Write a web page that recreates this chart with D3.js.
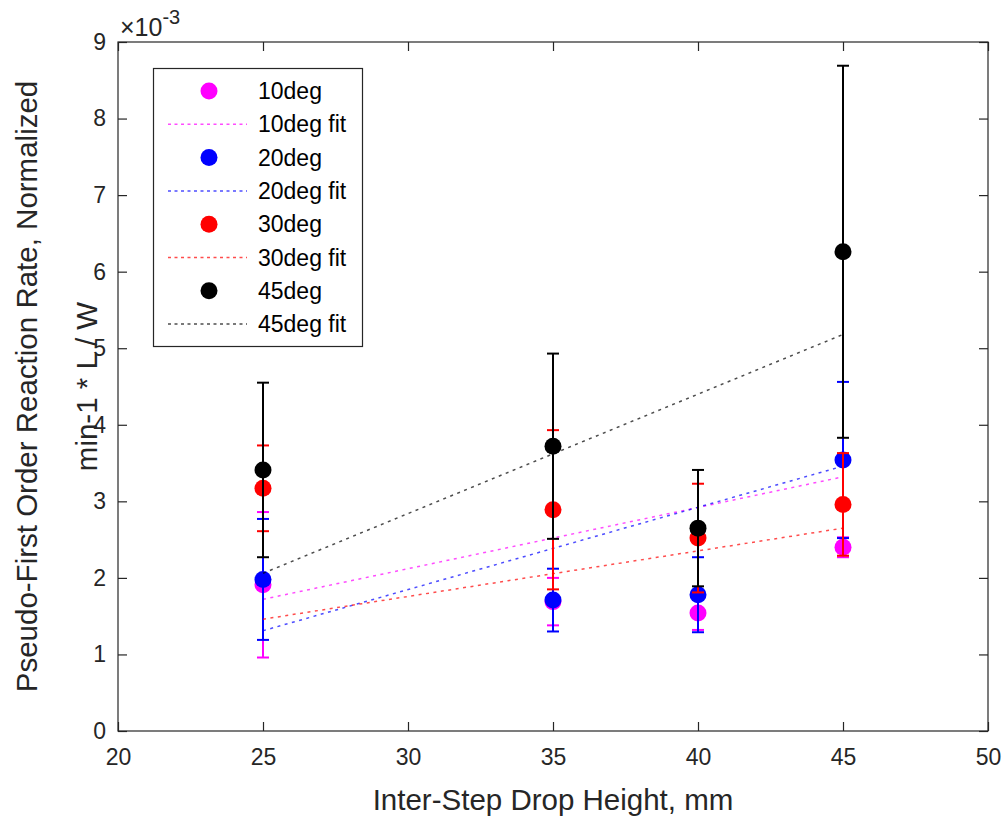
<!DOCTYPE html>
<html>
<head>
<meta charset="utf-8">
<script src="https://cdn.jsdelivr.net/npm/d3@7"></script>
<style>
  html, body { margin: 0; padding: 0; background: #fff; }
  svg { display: block; font-family: "Liberation Sans", Arial, Helvetica, sans-serif; }
</style>
</head>
<body>
<svg id="chart"></svg>
<script>
// drop heights (mm)
const heights = [25, 35, 40, 45];

// series names and colours
const seriesNames = ["10deg", "20deg", "30deg", "45deg"];
const seriesColors = ["#ff00ff", "#0000ff", "#ff0000", "#000000"];

// measured rates (min-1 * L / W) and error half-widths
const rate10 = [1.91e-3, 1.69e-3, 1.54e-3, 2.40e-3];
const err10  = [0.95e-3, 0.31e-3, 0.22e-3, 0.13e-3];
const rate20 = [1.98e-3, 1.71e-3, 1.78e-3, 3.54e-3];
const err20  = [0.79e-3, 0.41e-3, 0.49e-3, 1.02e-3];
const rate30 = [3.17e-3, 2.89e-3, 2.52e-3, 2.96e-3];
const err30  = [0.56e-3, 1.04e-3, 0.71e-3, 0.67e-3];
const rate45 = [3.41e-3, 3.72e-3, 2.65e-3, 6.26e-3];
const err45  = [1.14e-3, 1.21e-3, 0.76e-3, 2.43e-3];

// linear fits, evaluated at the ends of the height range
const fitX  = [25, 45];
const fit10 = [1.72e-3, 3.32e-3];
const fit20 = [1.31e-3, 3.46e-3];
const fit30 = [1.46e-3, 2.65e-3];
const fit45 = [2.06e-3, 5.18e-3];

// axis ticks
const xTicks = [20, 25, 30, 35, 40, 45, 50];
const yTicks = [0, 1e-3, 2e-3, 3e-3, 4e-3, 5e-3, 6e-3, 7e-3, 8e-3, 9e-3];

const W = 1004, H = 816;
const plot = { left: 118, right: 988, top: 42, bottom: 731 };
const axisColor = "#262626";
const tickLen = 9;

const series = [
    { rates: rate10, errs: err10, fit: fit10 },
    { rates: rate20, errs: err20, fit: fit20 },
    { rates: rate30, errs: err30, fit: fit30 },
    { rates: rate45, errs: err45, fit: fit45 }
].map((s, i) => ({ ...s, name: seriesNames[i], color: seriesColors[i] }));

const svg = d3.select("#chart").attr("width", W).attr("height", H);

const x = d3.scaleLinear().domain([20, 50]).range([plot.left, plot.right]);
const y = d3.scaleLinear().domain([0, 9e-3]).range([plot.bottom, plot.top]);

// --- axes (box with inward ticks on every side) ---
const axes = svg.append("g").attr("class", "axes");

axes.append("g")
    .attr("transform", `translate(0,${plot.bottom})`)
    .call(d3.axisBottom(x).tickValues(xTicks).tickSize(-tickLen).tickPadding(18).tickFormat(d3.format("d")));
axes.append("g")
    .attr("transform", `translate(0,${plot.top})`)
    .call(d3.axisTop(x).tickValues(xTicks).tickSize(-tickLen).tickFormat(""));
axes.append("g")
    .attr("transform", `translate(${plot.left},0)`)
    .call(d3.axisLeft(y).tickValues(yTicks).tickSize(-tickLen).tickPadding(12).tickFormat(d => Math.round(d * 1000)));
axes.append("g")
    .attr("transform", `translate(${plot.right},0)`)
    .call(d3.axisRight(y).tickValues(yTicks).tickSize(-tickLen).tickFormat(""));

axes.selectAll(".domain").remove();
axes.selectAll("line").attr("stroke", axisColor).attr("stroke-width", 1.2);
axes.selectAll("text").attr("fill", axisColor).attr("font-size", "23px").attr("font-family", null);
axes.append("rect")
    .attr("x", plot.left).attr("y", plot.top)
    .attr("width", plot.right - plot.left).attr("height", plot.bottom - plot.top)
    .attr("fill", "none").attr("stroke", axisColor).attr("stroke-width", 1.2);

// exponent marker
const expo = svg.append("text").attr("x", plot.left + 2).attr("y", 36)
    .attr("fill", axisColor).attr("font-size", "25px");
expo.append("tspan").text("\u00d710");
expo.append("tspan").attr("font-size", "20px").attr("dy", -12).text("-3");

// axis labels
svg.append("text")
    .attr("x", (plot.left + plot.right) / 2).attr("y", 810)
    .attr("text-anchor", "middle").attr("fill", axisColor).attr("font-size", "29.5px")
    .text("Inter-Step Drop Height, mm");

const yLabel = svg.append("text")
    .attr("transform", `translate(0,${(plot.top + plot.bottom) / 2}) rotate(-90)`)
    .attr("text-anchor", "middle").attr("fill", axisColor).attr("font-size", "29.5px");
yLabel.append("tspan").attr("x", 0).attr("y", 37).text("Pseudo-First Order Reaction Rate, Normalized");
yLabel.append("tspan").attr("x", 0).attr("y", 97).text("min-1 * L / W");

// --- data: error bars, markers, then fit lines ---
const marks = svg.append("g").attr("class", "marks");
const capHalf = 6;

series.forEach(s => {
    const pts = heights.map((h, i) => ({ h, v: s.rates[i], e: s.errs[i] }));
    const g = marks.append("g").attr("class", "series");

    g.selectAll(".whisker").data(pts).enter().append("line")
        .attr("x1", d => x(d.h)).attr("x2", d => x(d.h))
        .attr("y1", d => y(d.v - d.e)).attr("y2", d => y(d.v + d.e))
        .attr("stroke", s.color).attr("stroke-width", 2);
    ["lo", "hi"].forEach(side => {
        g.selectAll(".cap-" + side).data(pts).enter().append("line")
            .attr("x1", d => x(d.h) - capHalf).attr("x2", d => x(d.h) + capHalf)
            .attr("y1", d => y(side === "lo" ? d.v - d.e : d.v + d.e))
            .attr("y2", d => y(side === "lo" ? d.v - d.e : d.v + d.e))
            .attr("stroke", s.color).attr("stroke-width", 2);
    });
    g.selectAll("circle").data(pts).enter().append("circle")
        .attr("cx", d => x(d.h)).attr("cy", d => y(d.v)).attr("r", 8.5)
        .attr("fill", s.color);

    g.append("path")
        .datum(fitX.map((fx, i) => [fx, s.fit[i]]))
        .attr("d", d3.line().x(d => x(d[0])).y(d => y(d[1])))
        .attr("fill", "none").attr("stroke", s.color).attr("stroke-width", 1.5)
        .attr("stroke-opacity", 0.7).attr("stroke-dasharray", "3,4.5");
});

// --- legend ---
const legend = svg.append("g").attr("class", "legend");
legend.append("rect")
    .attr("x", 153.5).attr("y", 68.5).attr("width", 209).attr("height", 278)
    .attr("fill", "#fff").attr("stroke", axisColor).attr("stroke-width", 1.2);

const rowStep = 33.3;
series.forEach((s, i) => {
    const y0 = 91 + 2 * i * rowStep;
    const y1 = y0 + rowStep;
    legend.append("circle").attr("cx", 209).attr("cy", y0).attr("r", 8.5).attr("fill", s.color);
    legend.append("text").attr("x", 258).attr("y", y0 + 8)
        .attr("font-size", "23px").attr("fill", "#000").text(s.name);
    legend.append("line")
        .attr("x1", 168).attr("x2", 247).attr("y1", y1).attr("y2", y1)
        .attr("stroke", s.color).attr("stroke-width", 1.5).attr("stroke-opacity", 0.7)
        .attr("stroke-dasharray", "3,3.5");
    legend.append("text").attr("x", 258).attr("y", y1 + 8)
        .attr("font-size", "23px").attr("fill", "#000").text(s.name + " fit");
});
</script>
</body>
</html>
